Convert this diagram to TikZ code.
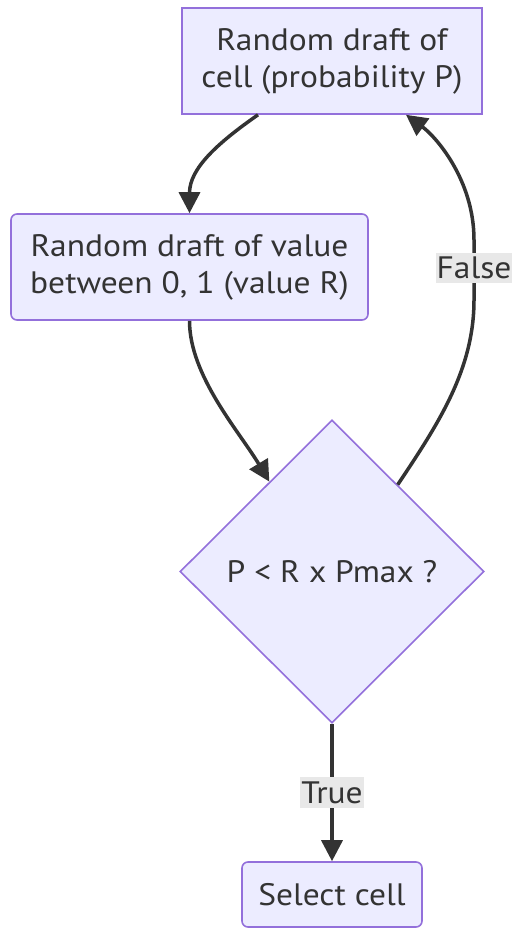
\documentclass[tikz,border=0pt]{standalone}
\usepackage{fontspec}
\setmainfont{PT Sans}[FakeStretch=1.08]
\usetikzlibrary{arrows.meta,shapes.geometric,calc}
\definecolor{nodefill}{HTML}{ECECFF}
\definecolor{nodeline}{HTML}{9370DB}
\definecolor{edgecol}{HTML}{333333}
\definecolor{labbg}{HTML}{E8E8E8}
\tikzset{
  box/.style={draw=nodeline,fill=nodefill,line width=1.6pt,text=edgecol,align=center,font=\fontsize{31}{37}\selectfont,inner sep=0pt},
  rbox/.style={box,rounded corners=6pt},
  decision/.style={box,diamond,aspect=1,inner sep=0pt},
  arr/.style={draw=edgecol,line width=3.5pt,-{Triangle[length=21pt,width=21pt]}},
  lab/.style={fill=labbg,text=edgecol,font=\fontsize{31}{35}\selectfont,inner xsep=1pt,inner ysep=4pt}
}
\begin{document}
\begin{tikzpicture}[x=1pt,y=-1pt]
\useasboundingbox (0,0) rectangle (516,928);
\node[box,minimum width=300pt,minimum height=106pt] (a) at (332,61) {Random draft of\\cell (probability P)};
\node[rbox,minimum width=357pt,minimum height=106pt] (b) at (189.5,267) {Random draft of value\\between 0, 1 (value R)};
\node[decision,minimum width=304pt,minimum height=303pt] (c) at (332,571.5) {P < R x Pmax ?};
\node[rbox,minimum width=180pt,minimum height=65pt] (d) at (332,894.5) {Select cell};
\coordinate (a1) at ([xshift=-74pt]a.south);
\coordinate (a2) at ([xshift=74pt]a.south);
\coordinate (c1) at ($(c.north)!0.41!(c.west)$);
\coordinate (c2) at ($(c.north)!0.43!(c.east)$);
\draw[arr] (a1) .. controls +(-40,28) and +(0,-45) .. (b.north);
\draw[arr] (b.south) .. controls +(0,55) and +(-30,-50) .. (c1);
\draw[arr] (c2) .. controls +(40,-60) and +(0,70) .. (474,300) -- (474,240) .. controls +(0,-60) and +(30,22) .. (a2);
\draw[arr] (c.south) -- (d.north) node[lab,pos=0.5] (t) {True};
\node[lab] (f) at (474,268) {False};
\end{tikzpicture}
\end{document}
